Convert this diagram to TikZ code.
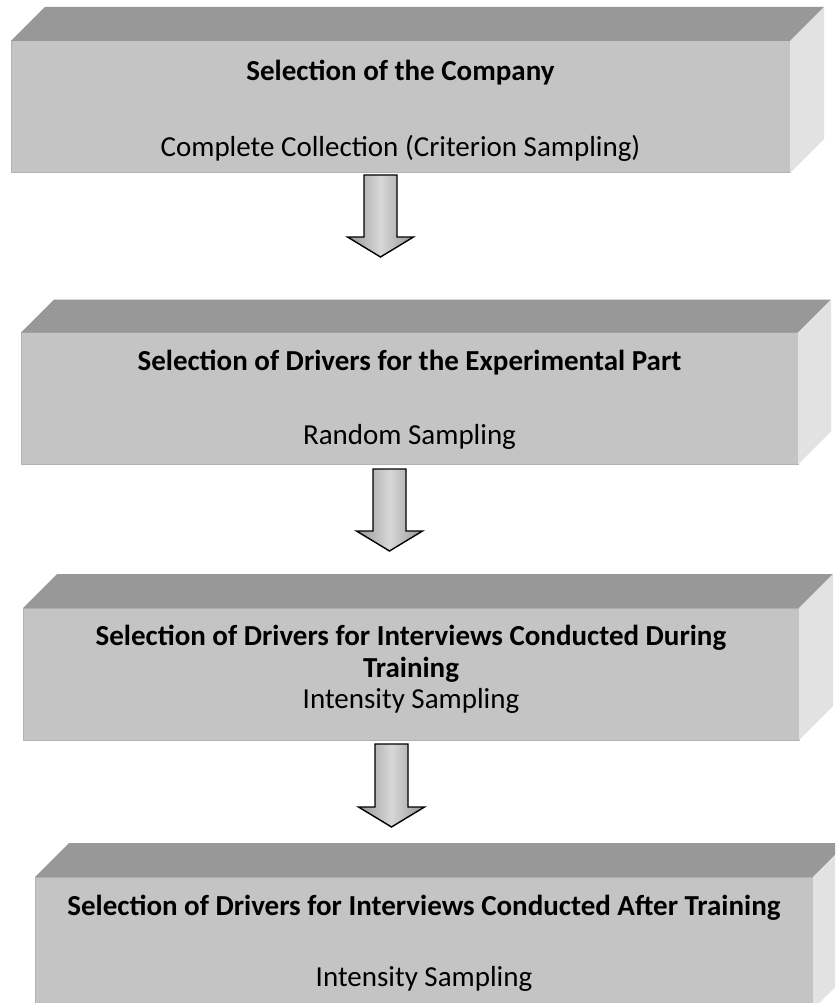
\documentclass[tikz,border=0pt]{standalone}
\usepackage{fontspec}
\setmainfont{Carlito}
\usetikzlibrary{calc}

\definecolor{topface}{RGB}{152,152,152}
\definecolor{frontface}{RGB}{196,196,196}
\definecolor{sideface}{RGB}{226,226,226}
\definecolor{edgeline}{RGB}{178,178,178}
\definecolor{arrowdark}{RGB}{150,150,150}
\definecolor{arrowlight}{RGB}{216,216,216}
\definecolor{shadowgray}{RGB}{175,175,175}

\tikzset{
  front/.style={draw=edgeline, line width=1pt, fill=frontface, inner sep=0pt, outer sep=0pt},
  topf/.style={fill=topface},
  sidef/.style={fill=sideface},
  title/.style={font=\bfseries\fontsize{29}{32}\selectfont, inner sep=0pt, align=center},
  sub/.style={font=\fontsize{29}{32}\selectfont, inner sep=0pt},
  blockarrow/.style={draw=black, line width=1.4pt, line join=miter,
    left color=arrowdark, right color=arrowdark, middle color=arrowlight},
  arrowshadow/.style={fill=shadowgray},
}

% a slab: front face as a node, with its top and right faces behind it
\newcommand{\slab}[5]{% name, centre x, centre y, width, depth
  \node[front, minimum width=#4pt, minimum height=132pt] (#1) at (#2,#3) {};
  \fill[topf] (#1.north west) -- ++(#5,-#5) -- ($(#1.north east)+(#5,-#5)$) -- (#1.north east) -- cycle;
  \fill[sidef] (#1.north east) -- ++(#5,-#5) -- ($(#1.south east)+(#5,-#5)$) -- (#1.south east) -- cycle;
}

% outline of a downward block arrow from a start point to its tip
\newcommand{\arrowpath}[2]{%
  let \p1=(#1), \p2=(#2) in
  (\x1-16.5pt,\y1) -- (\x1+16.5pt,\y1) -- (\x1+16.5pt,\y2+20pt) -- (\x1+33pt,\y2+20pt)
  -- (\x1,\y2) -- (\x1-33pt,\y2+20pt) -- (\x1-16.5pt,\y2+20pt) -- cycle}

\newcommand{\flowarrow}[2]{%
  \fill[arrowshadow, shift={(3,3)}] \arrowpath{#1}{#2};
  \path[blockarrow] \arrowpath{#1}{#2};
}

\begin{document}
\begin{tikzpicture}[x=1pt, y=-1pt]
  \clip (0,0) rectangle (835,1003);
  \fill[white] (0,0) rectangle (835,1003);

  % the four stages
  \slab{b1}{400.5}{107}{779}{34}
  \slab{b2}{409.5}{398.5}{777}{33}
  \slab{b3}{411}{674}{776}{34}
  \slab{b4}{424}{943}{778}{34}

  \node[title] (t1) at (400.5,73) {Selection of the Company};
  \node[sub]   (s1) at (400.5,148) {Complete Collection (Criterion Sampling)};

  \node[title] (t2) at (409.5,363) {Selection of Drivers for the Experimental Part};
  \node[sub]   (s2) at (409.5,437) {Random Sampling};

  \node[title] (t3) at (411,654) {Selection of Drivers for Interviews Conducted During\\Training};
  \node[sub]   (s3) at (411,701) {Intensity Sampling};

  \node[title] (t4) at (424,908) {Selection of Drivers for Interviews Conducted After Training};
  \node[sub]   (s4) at (424,979) {Intensity Sampling};

  % arrows between the stages
  \coordinate (a1s) at (380.5,175);
  \coordinate (a1t) at (380.5,257);
  \coordinate (a2s) at (389.5,469);
  \coordinate (a2t) at (389.5,551);
  \coordinate (a3s) at (391.5,744);
  \coordinate (a3t) at (391.5,827);
  \flowarrow{a1s}{a1t}
  \flowarrow{a2s}{a2t}
  \flowarrow{a3s}{a3t}
\end{tikzpicture}
\end{document}
